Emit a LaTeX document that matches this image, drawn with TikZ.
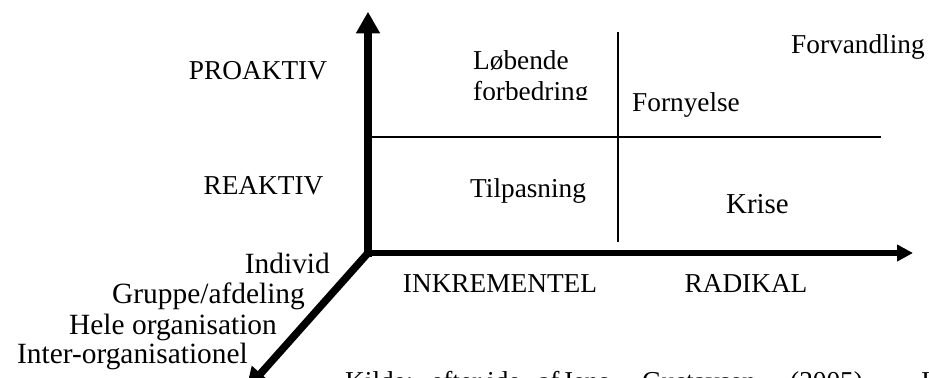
\documentclass[tikz,border=0pt]{standalone}
\usepackage{fontspec}
\setmainfont{Liberation Serif}
\usetikzlibrary{arrows.meta}

\begin{document}
\begin{tikzpicture}[x=1bp,y=-1bp,
  lbl/.style={inner sep=0pt, font=\fontsize{27.4}{31}\selectfont},
  biglbl/.style={inner sep=0pt, font=\fontsize{29.5}{30}\selectfont},
  axisline/.style={line width=#1, line cap=butt},
  gridline/.style={line width=2bp}]
  \clip (0,0) rectangle (929,377);
  \fill[white] (0,0) rectangle (929,377);

  % axis end points
  \coordinate (O) at (368,253);
  \coordinate (Overt) at (368,256.7);
  \coordinate (Ohorz) at (364.3,253);
  \coordinate (ytip) at (368,11.7);
  \coordinate (xtip) at (913,253);
  \coordinate (ztip) at (246,390);

  % three axes
  \draw[axisline=7.3bp, -{Triangle[length=21.6bp,width=22.7bp]}] (Overt) -- (ytip);
  \draw[axisline=6bp, -{Triangle[length=16bp,width=16bp]}] (Ohorz) -- (xtip);
  \draw[axisline=7.5bp, -{Triangle[length=22bp,width=22bp]}] (O) -- (ztip);

  % quadrant lines
  \coordinate (hl) at (372,137);
  \coordinate (hr) at (881,137);
  \coordinate (vt) at (618,32);
  \coordinate (vb) at (618,242);
  \draw[gridline] (hl) -- (hr);
  \draw[gridline] (vt) -- (vb);

  % vertical axis labels
  \node[lbl, anchor=base] (pro) at (258,79.3) {PROAKTIV};
  \node[lbl, anchor=base] (rea) at (263.5,194) {REAKTIV};

  % quadrant labels (the first one sits in a box that cuts its last line)
  \begin{scope}
    \clip (400,0) rectangle (612,99.3);
    \node[lbl, anchor=base west, align=left] (lob) at (473,100.3) {Løbende\\forbedring};
  \end{scope}
  \node[lbl, anchor=base west] (forv) at (791,53.3) {Forvandling};
  \node[lbl, anchor=base west] (forn) at (632,111.7) {Fornyelse};
  \node[lbl, anchor=base west] (tilp) at (470,197.5) {Tilpasning};
  \node[inner sep=0pt, font=\fontsize{29}{30}\selectfont, anchor=base west] (krise) at (726,213) {Krise};

  % horizontal axis labels
  \node[lbl, anchor=base] (ink) at (500,292) {INKREMENTEL};
  \node[lbl, anchor=base] (rad) at (746,292) {RADIKAL};

  % diagonal axis labels
  \node[biglbl, anchor=base east] (ind) at (330,273.3) {Individ};
  \node[biglbl, anchor=base east] (grp) at (305,303.5) {Gruppe/afdeling};
  \node[biglbl, anchor=base east] (hel) at (277,334) {Hele organisation};
  \node[biglbl, anchor=base east] (int) at (248,363.5) {Inter-organisationel};

  % source line (justified), running past the lower edge
  \node[lbl, anchor=base west] (c1) at (345,390) {Kilde:};
  \node[lbl, anchor=base west] (c2) at (431,390) {efter};
  \node[lbl, anchor=base west] (c3) at (487,390) {ide};
  \node[lbl, anchor=base west] (c4) at (538,390) {af};
  \node[lbl, anchor=base west] (c5) at (562,390) {Jens};
  \node[lbl, anchor=base west] (c6) at (642,390) {Gustavsen};
  \node[lbl, anchor=base west] (c7) at (790,390) {(2005)};
  \node[lbl, anchor=base west] (c8) at (885,390) {–};
  \node[lbl, anchor=base west] (c9) at (921,390) {I};
\end{tikzpicture}
\end{document}
